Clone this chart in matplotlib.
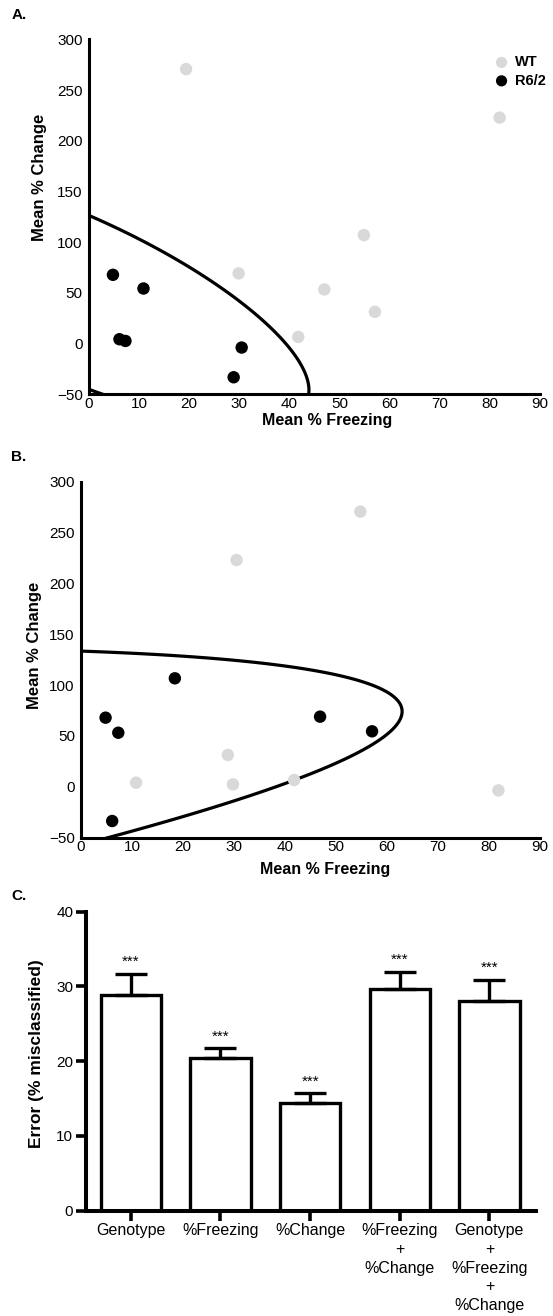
import numpy as np
import matplotlib
matplotlib.use("Agg")
import matplotlib.pyplot as plt

plt.rcParams['font.family'] = ['Liberation Sans', 'DejaVu Sans']

# ---------------- data ----------------
# Panel A
a_wt_x = [19.4, 82.0, 54.9, 29.9, 47.0, 57.1, 41.8]
a_wt_y = [270.6, 222.8, 107.0, 69.2, 53.4, 31.3, 6.6]
a_r6_x = [4.8, 10.9, 6.1, 7.3, 30.5, 28.9]
a_r6_y = [67.8, 54.3, 4.3, 2.6, -3.9, -33.2]
# decision boundary points
a_bd_x = [0, 6.9, 13.9, 21.0, 28.0, 35.1, 40.1, 43.0, 43.9, 0, 1.2, 2.4]
a_bd_y = [126.8, 110.4, 92.3, 72.6, 49.6, 21.7, -4.6, -29.3, -50, -44.5, -47.2, -50]

# Panel B
b_wt_x = [54.8, 30.5, 28.8, 10.8, 29.8, 41.8, 81.9]
b_wt_y = [270.6, 223.0, 31.3, 4.1, 2.4, 6.7, -3.5]
b_r6_x = [18.4, 4.8, 7.3, 46.9, 57.1, 6.1]
b_r6_y = [106.7, 68.0, 53.2, 69.0, 54.6, -33.6]
b_bd_x = [0, 18.7, 32.5, 46.4, 56.8, 61.6, 63.2, 61.6, 56.8, 46.4, 41.5, 32.5, 18.7, 6.2]
b_bd_y = [133, 129.6, 124, 113, 98.5, 85, 72, 56, 38, 16.5, 6.7, -9.7, -31, -49]

# Panel C
c_labels = ['Genotype', '%Freezing', '%Change', '%Freezing\n+\n%Change',
            'Genotype\n+\n%Freezing\n+\n%Change']
c_vals = [28.9, 20.4, 14.4, 29.7, 28.0]
c_err = [2.8, 1.3, 1.3, 2.3, 2.9]
c_sig = ['***', '***', '***', '***', '***']

x_ticks = list(range(0, 91, 10))
y_ticks = list(range(-50, 301, 50))
c_yticks = [0, 10, 20, 30, 40]

WT_COL = '#d9d9d9'
R6_COL = '#000000'

W, H = 553, 1316
fig = plt.figure(figsize=(W / 100, H / 100), dpi=100)


def conic(xs, ys, sx=90.0, sy=350.0):
    u = np.asarray(xs, float) / sx
    v = np.asarray(ys, float) / sy
    M = np.column_stack([u * u, u * v, v * v, u, v, np.ones_like(u)])
    _, _, vt = np.linalg.svd(M)
    c = vt[-1]

    def f(X, Y):
        U, V = X / sx, Y / sy
        return c[0] * U * U + c[1] * U * V + c[2] * V * V + c[3] * U + c[4] * V + c[5]
    return f


def scatter_panel(rect, wt_x, wt_y, r6_x, r6_y, bd_x, bd_y, xlab_pos, ylab_pos, legend=False):
    ax = fig.add_axes(rect)
    ax.set_xlim(0, 90)
    ax.set_ylim(-50, 300)
    ax.set_xticks(x_ticks)
    ax.set_yticks(y_ticks)
    for s in ['top', 'right']:
        ax.spines[s].set_visible(False)
    for s in ['left', 'bottom']:
        ax.spines[s].set_linewidth(2.2)
    ax.tick_params(axis='both', length=0, labelsize=11)
    ax.tick_params(axis='x', pad=2)
    ax.tick_params(axis='y', pad=4.5)
    f = conic(bd_x, bd_y)
    gx = np.linspace(-5, 95, 700)
    gy = np.linspace(-60, 310, 700)
    X, Y = np.meshgrid(gx, gy)
    ax.contour(X, Y, f(X, Y), levels=[0], colors='black', linewidths=2.3, zorder=2)
    ax.scatter(wt_x, wt_y, s=80, color=WT_COL, edgecolors='none', label='WT', zorder=3)
    ax.scatter(r6_x, r6_y, s=80, color=R6_COL, edgecolors='none', label='R6/2', zorder=3)
    ax.set_xlabel('Mean % Freezing', fontsize=11.5, fontweight='bold', va='center')
    ax.xaxis.set_label_coords(*xlab_pos)
    ax.set_ylabel('Mean % Change', fontsize=12, fontweight='bold', va='center', ha='center')
    ax.yaxis.set_label_coords(*ylab_pos)
    if legend:
        ax.legend(loc='upper left', bbox_to_anchor=(0.883, 0.9755), frameon=False,
                  borderpad=0, handlelength=1.0, handletextpad=0.4, labelspacing=0.3,
                  prop={'weight': 'bold', 'size': 10.5}, markerscale=0.9)
    return ax


axA = scatter_panel([88.9 / W, 1 - 394.3 / H, 450.8 / W, 355 / H],
                    a_wt_x, a_wt_y, a_r6_x, a_r6_y, a_bd_x, a_bd_y,
                    (0.528, -0.075), (-0.109, 0.61), legend=True)
axB = scatter_panel([81.1 / W, 1 - 837.7 / H, 458.6 / W, 356 / H],
                    b_wt_x, b_wt_y, b_r6_x, b_r6_y, b_bd_x, b_bd_y,
                    (0.533, -0.088), (-0.102, 0.541))

# Panel C
axC = fig.add_axes([86 / W, 1 - 1210.7 / H, 450 / W, 299 / H])
pos = np.arange(len(c_vals))
axC.bar(pos, c_vals, width=0.673, color='white', edgecolor='black', linewidth=2.4, zorder=2)
axC.errorbar(pos, c_vals, yerr=[np.zeros(len(c_err)), c_err], fmt='none', ecolor='black',
             elinewidth=2.4, capsize=11.5, capthick=2.4, zorder=3)
for p, v, e, s in zip(pos, c_vals, c_err, c_sig):
    axC.text(p, v + e + 0.6, s, ha='center', va='bottom', fontsize=11)
axC.set_xlim(-0.5, 4.52)
axC.set_ylim(0, 40)
axC.set_yticks(c_yticks)
axC.set_xticks(pos)
axC.set_xticklabels(c_labels, fontsize=11.5, linespacing=1.3)
for s in ['top', 'right']:
    axC.spines[s].set_visible(False)
for s in ['left', 'bottom']:
    axC.spines[s].set_linewidth(2.9)
axC.tick_params(axis='both', direction='out', length=7.2, width=2.6)
axC.tick_params(axis='y', labelsize=11, pad=2)
axC.tick_params(axis='x', pad=2)
axC.set_ylabel('Error (% misclassified)', fontsize=12.5, fontweight='bold', va='center', ha='center')
axC.yaxis.set_label_coords(-0.111, 0.524)

# panel letters
for lab, (px, py) in zip(['A.', 'B.', 'C.'], [(19.5, 15), (19, 457), (18.5, 895.5)]):
    fig.text(px / W, 1 - py / H, lab, fontsize=11, fontweight='bold', ha='center', va='center')

fig.savefig('out.png', dpi=100)
